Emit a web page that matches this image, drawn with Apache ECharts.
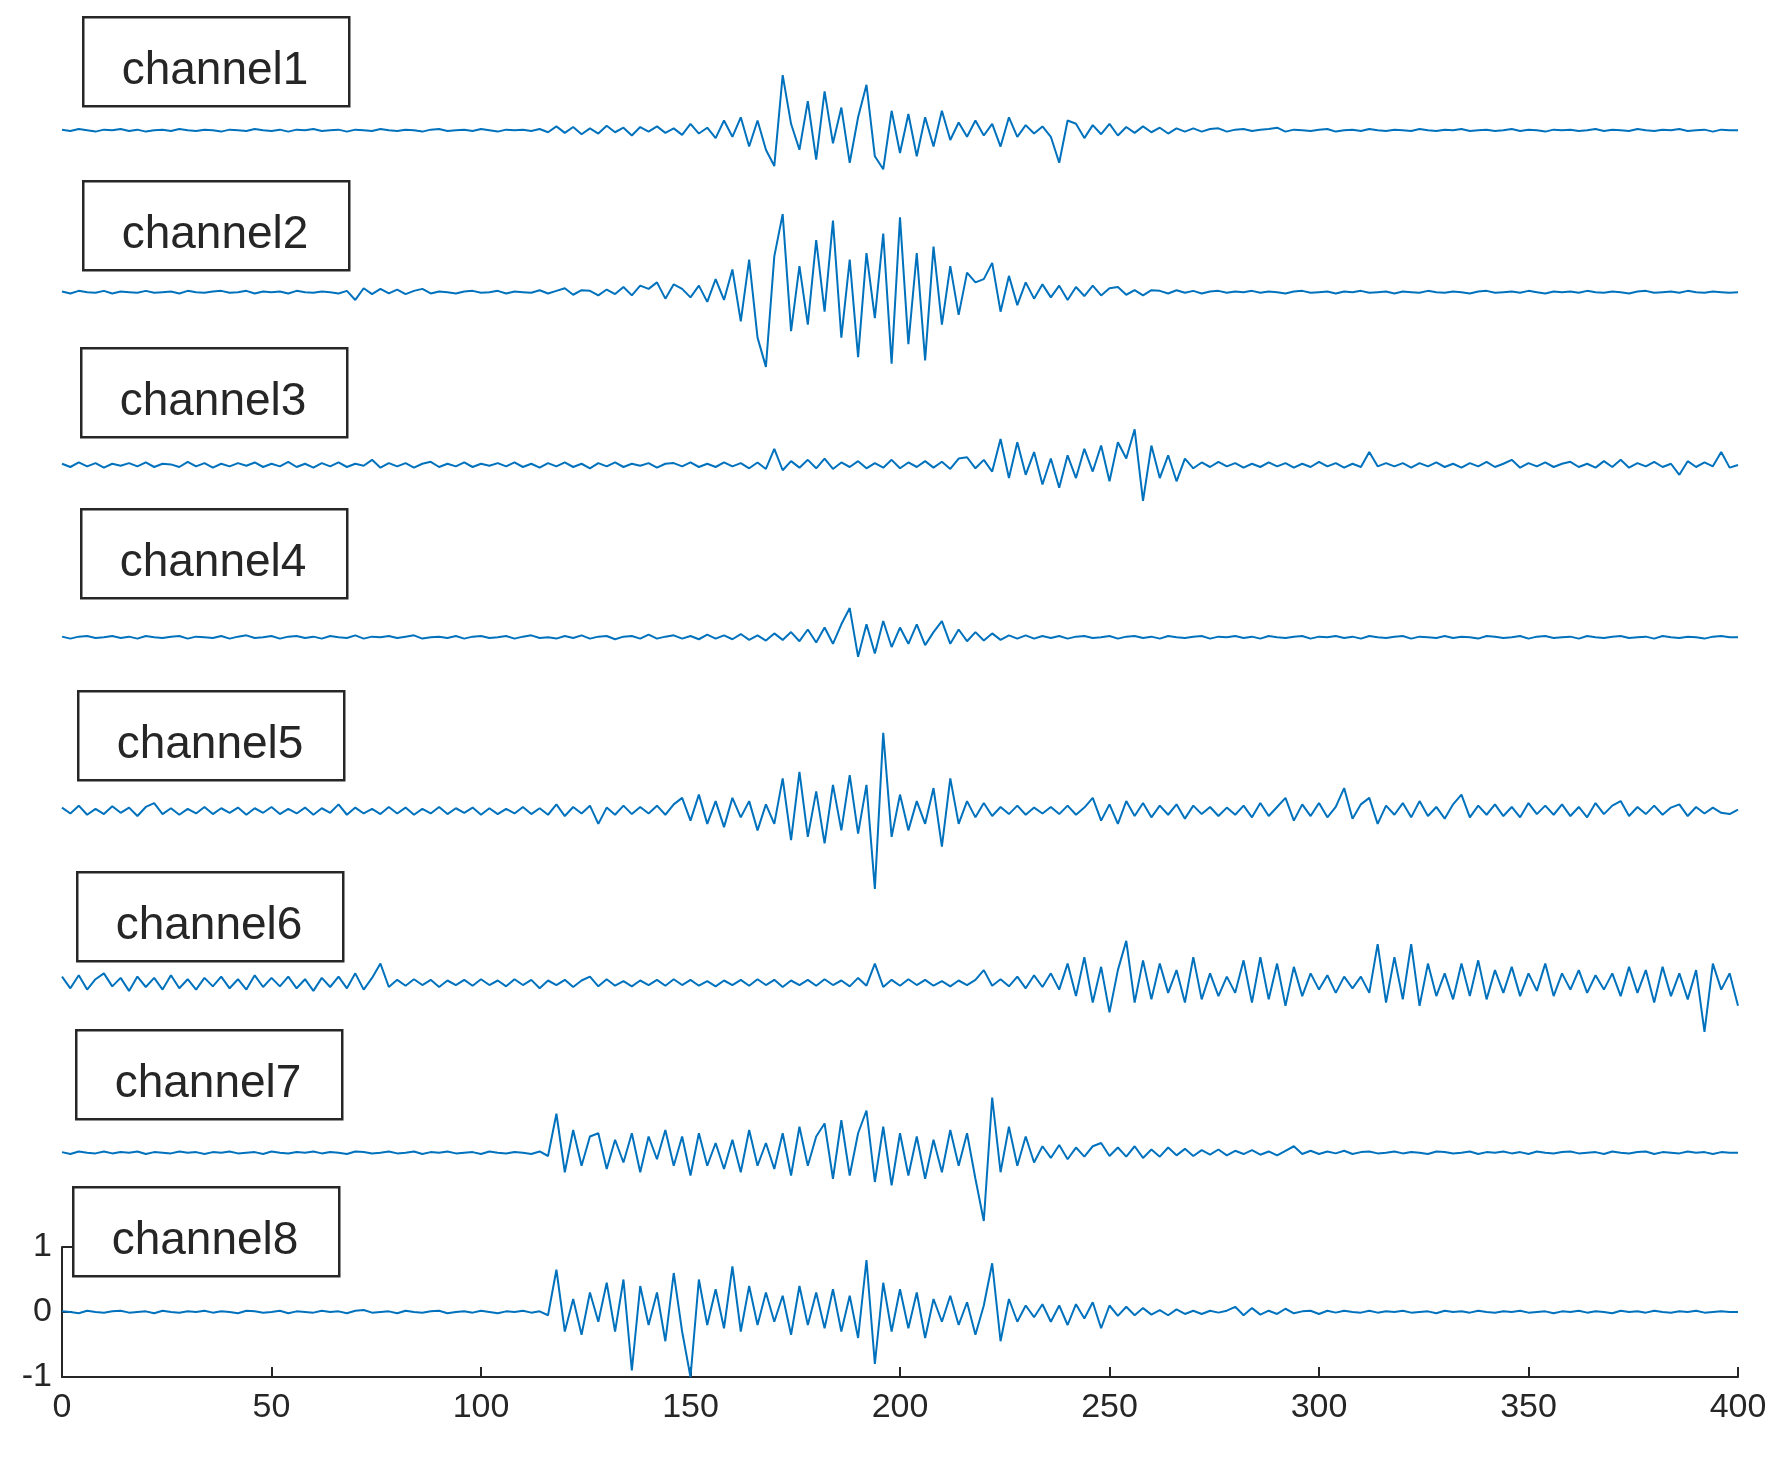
<!DOCTYPE html>
<html><head><meta charset="utf-8">
<script src="https://cdn.jsdelivr.net/npm/echarts@6/dist/echarts.min.js"></script>
<style>html,body{margin:0;padding:0;background:#fff}#c{width:1784px;height:1458px}</style>
</head><body><div id="c"></div>
<script>
const channelNames=['channel1','channel2','channel3','channel4','channel5','channel6','channel7','channel8'];
const xTickLabels=['0','50','100','150','200','250','300','350','400'];
const yTickLabels=['-1','0','1'];
const ch1=[0.01,-0.01,0.02,0,-0.02,0.01,0,0.02,-0.01,0.01,-0.02,0,0.01,-0.01,0.02,0,-0.01,0.01,0,-0.02,
0.01,0,-0.01,0.02,0,-0.01,0.01,-0.02,0.01,0,0.02,-0.01,0,0.01,-0.02,0.01,0,-0.01,0.02,0,
-0.01,0.01,0,-0.02,0.01,0.02,-0.01,0,0.01,-0.01,0.02,0,-0.02,0.01,0,0.01,-0.01,0.02,-0.03,0.06,
-0.04,0.05,-0.06,0.03,-0.05,0.07,-0.03,0.04,-0.08,0.05,-0.02,0.06,-0.04,0.03,-0.07,0.1,-0.05,0.04,-0.12,0.15,
-0.1,0.2,-0.25,0.15,-0.3,-0.55,0.85,0.1,-0.3,0.45,-0.45,0.6,-0.2,0.35,-0.5,0.2,0.7,-0.4,-0.6,0.3,
-0.35,0.25,-0.4,0.2,-0.25,0.3,-0.15,0.12,-0.1,0.15,-0.08,0.1,-0.25,0.2,-0.1,0.08,-0.05,0.06,-0.1,-0.5,
0.15,0.1,-0.12,0.08,-0.06,0.1,-0.08,0.05,-0.04,0.06,-0.03,0.04,-0.05,0.03,-0.02,0.03,-0.02,0.02,0.03,-0.02,
0.01,0.02,-0.01,0.01,0.02,0.04,-0.02,0.01,0,-0.01,0.01,0.02,-0.02,0,0.01,-0.01,0.02,0,-0.01,0.01,
0,-0.01,0.02,0,-0.01,0.01,0,0.02,-0.01,0,0.01,-0.01,0,0.02,-0.01,0.01,0,-0.02,0.01,0,
0.01,-0.01,0,0.02,-0.01,0.01,0,-0.01,0.02,0,-0.01,0.01,0,0.02,-0.01,0,0.01,-0.02,0.01,0,0];
const ch2=[0.01,-0.02,0.02,0,-0.01,0.02,-0.02,0.01,0,-0.01,0.02,-0.01,0,0.01,-0.02,0.02,0,-0.01,0.01,0.02,
-0.01,0,0.02,-0.02,0.01,0,0.01,-0.02,0.02,0,-0.01,0.01,0,-0.02,0.02,-0.12,0.06,-0.03,0.05,-0.02,
0.04,-0.03,0.02,0.05,-0.02,0.01,0,-0.02,0.01,0.02,-0.01,0,0.02,-0.02,0.01,0,-0.01,0.03,-0.02,0.02,
0.06,-0.04,0.03,0.02,-0.05,0.04,-0.03,0.08,-0.05,0.1,0.05,0.15,-0.1,0.12,0.05,-0.08,0.1,-0.15,0.2,-0.12,
0.35,-0.45,0.5,-0.7,-1.15,0.55,1.2,-0.6,0.4,-0.5,0.8,-0.3,1.1,-0.7,0.5,-1.0,0.6,-0.4,0.9,-1.1,
1.15,-0.8,0.6,-1.05,0.7,-0.5,0.4,-0.35,0.3,0.15,0.2,0.45,-0.3,0.25,-0.2,0.15,-0.1,0.12,-0.08,0.1,
-0.12,0.08,-0.06,0.1,-0.05,0.06,0.08,-0.04,0.03,-0.05,0.03,0.02,-0.02,0.03,-0.01,0.02,-0.02,0.01,0.02,-0.01,
0.01,0,0.02,-0.01,0.01,0,-0.02,0.01,0.02,-0.01,0,0.01,-0.02,0.01,0,0.02,-0.01,0,0.01,-0.02,
0.01,0,-0.01,0.02,0,-0.01,0.01,0,-0.02,0.01,0.02,-0.01,0,0.01,-0.01,0.02,0,-0.02,0.01,0,
0.01,-0.01,0.02,0,-0.01,0.01,0,-0.02,0.01,0.02,-0.01,0,0.01,-0.01,0.02,0,-0.01,0.01,0,-0.01,0];
const ch3=[0.02,-0.03,0.04,-0.02,0.03,-0.04,0.02,-0.01,0.03,-0.02,0.04,-0.03,0.02,0.01,-0.03,0.05,-0.02,0.03,-0.04,0.02,
-0.02,0.03,-0.01,0.04,-0.03,0.02,-0.02,0.05,-0.03,0.02,-0.04,0.03,-0.02,0.04,-0.03,0.02,-0.01,0.08,-0.04,0.03,
-0.02,0.03,-0.04,0.02,0.05,-0.03,0.02,-0.02,0.04,-0.03,0.02,-0.01,0.03,-0.02,0.04,-0.03,0.02,-0.04,0.03,-0.02,
0.04,-0.03,0.02,-0.05,0.03,-0.02,0.04,-0.03,0.02,-0.01,0.03,-0.04,0.02,0.03,-0.02,0.04,-0.03,0.02,-0.03,0.04,
-0.02,0.03,-0.05,0.04,-0.06,0.25,-0.08,0.06,-0.04,0.08,-0.05,0.1,-0.06,0.04,-0.03,0.06,-0.05,0.03,-0.04,0.08,
-0.05,0.04,-0.03,0.06,-0.04,0.05,-0.06,0.1,0.12,-0.05,0.08,-0.1,0.4,-0.2,0.35,-0.15,0.2,-0.3,0.1,-0.35,
0.15,-0.2,0.25,-0.1,0.3,-0.25,0.35,0.1,0.55,-0.55,0.3,-0.2,0.15,-0.25,0.1,-0.05,0.04,-0.03,0.05,-0.02,
0.03,-0.04,0.02,-0.03,0.04,-0.02,0.03,-0.04,0.02,-0.03,0.05,-0.02,0.03,-0.04,0.02,-0.03,0.2,-0.02,0.03,-0.02,
0.03,-0.04,0.03,-0.02,0.04,-0.03,0.02,-0.04,0.03,-0.02,0.05,-0.03,0.02,0.08,-0.04,0.03,-0.02,0.04,-0.03,0.02,
0.05,-0.03,0.02,-0.04,0.06,-0.03,0.08,-0.04,0.03,-0.02,0.05,-0.03,0.02,-0.15,0.06,-0.03,0.04,-0.02,0.2,-0.04,0];
const ch4=[0.01,-0.02,0.01,0.02,-0.01,0,0.02,-0.01,0.01,-0.02,0.02,0,-0.01,0.01,0.02,-0.02,0.01,0,-0.01,0.02,
-0.02,0.01,0.03,-0.01,0,0.02,-0.02,0.01,0.02,-0.01,0.01,-0.02,0.02,0,-0.01,0.03,-0.02,0.01,0,0.02,
-0.01,0.01,0.03,-0.02,0,0.01,-0.01,0.02,-0.02,0.01,0.02,-0.01,0,0.02,-0.02,0.01,0.03,-0.01,0,-0.02,
0.02,-0.01,0.03,-0.02,0.01,0.02,-0.03,0.01,0.02,-0.02,0.04,-0.02,0.01,0.03,-0.02,0.02,-0.03,0.04,-0.02,0.03,
-0.03,0.05,-0.04,0.03,-0.05,0.06,-0.04,0.08,-0.06,0.12,-0.08,0.15,-0.1,0.2,0.45,-0.3,0.2,-0.25,0.25,-0.15,
0.15,-0.1,0.2,-0.12,0.08,0.25,-0.1,0.12,-0.06,0.08,-0.05,0.06,-0.04,0.03,-0.02,0.03,-0.02,0.02,-0.01,0.02,
-0.02,0.01,0.02,-0.01,0,0.02,-0.02,0.01,0.02,-0.01,0.01,-0.02,0.02,0,-0.01,0.01,0.02,-0.02,0.01,0,
0.02,-0.01,0.01,-0.02,0.02,0,-0.01,0.01,0.02,-0.02,0.01,0,0.02,-0.01,0.01,-0.02,0.02,0,-0.01,0.01,
0.02,-0.02,0.01,0,-0.01,0.02,-0.01,0.01,0,-0.02,0.02,0.01,-0.01,0,0.02,-0.02,0.01,0.02,-0.01,0,
0.01,-0.02,0.02,0,-0.01,0.01,0.02,-0.01,0,0.01,-0.02,0.02,0,-0.01,0.01,0,-0.02,0.01,0.02,0,0];
const ch5=[0.05,-0.04,0.08,-0.06,0.03,-0.05,0.07,-0.03,0.05,-0.08,0.06,0.12,-0.05,0.04,-0.06,0.03,-0.04,0.06,-0.05,0.04,
-0.03,0.05,-0.06,0.04,-0.03,0.06,-0.05,0.03,-0.04,0.05,-0.06,0.04,-0.03,0.1,-0.06,0.05,-0.04,0.03,-0.05,0.06,
-0.04,0.05,-0.06,0.03,-0.04,0.06,-0.05,0.04,-0.03,0.05,-0.06,0.04,-0.05,0.03,-0.04,0.06,-0.05,0.04,-0.06,0.1,
-0.08,0.06,-0.04,0.08,-0.2,0.05,-0.06,0.08,-0.05,0.06,-0.04,0.08,-0.06,0.1,0.2,-0.15,0.25,-0.2,0.15,-0.25,
0.2,-0.1,0.15,-0.3,0.1,-0.2,0.5,-0.45,0.6,-0.4,0.3,-0.5,0.4,-0.3,0.55,-0.35,0.4,-1.2,1.2,-0.4,
0.25,-0.3,0.15,-0.2,0.35,-0.55,0.5,-0.2,0.15,-0.1,0.12,-0.08,0.06,-0.05,0.08,-0.06,0.05,-0.04,0.06,-0.05,
0.08,-0.06,0.05,0.2,-0.15,0.1,-0.2,0.15,-0.08,0.12,-0.1,0.08,-0.06,0.1,-0.12,0.08,-0.05,0.06,-0.08,0.05,
-0.06,0.08,-0.1,0.12,-0.08,0.06,0.2,-0.15,0.1,-0.08,0.12,-0.1,0.06,0.35,-0.12,0.1,0.2,-0.2,0.08,-0.06,
0.12,-0.1,0.15,-0.08,0.06,-0.12,0.1,0.25,-0.1,0.08,-0.06,0.1,-0.08,0.06,-0.1,0.12,-0.05,0.08,-0.06,0.1,
-0.08,0.06,-0.1,0.12,-0.05,0.08,0.15,-0.08,0.06,-0.05,0.08,-0.06,0.05,0.1,-0.08,0.06,-0.04,0.05,-0.03,-0.05,0.02];
const ch6=[0.1,-0.08,0.12,-0.1,0.06,0.15,-0.05,0.08,-0.12,0.1,-0.06,0.08,-0.1,0.12,-0.08,0.06,-0.1,0.08,-0.05,0.1,
-0.08,0.06,-0.1,0.12,-0.06,0.08,-0.05,0.1,-0.08,0.06,-0.12,0.08,-0.06,0.1,-0.08,0.15,-0.1,0.08,0.3,-0.06,
0.05,-0.04,0.06,-0.03,0.05,-0.06,0.04,-0.03,0.05,-0.04,0.06,-0.03,0.04,-0.05,0.06,-0.03,0.05,-0.08,0.04,-0.03,
0.05,-0.06,0.04,0.1,-0.05,0.06,-0.04,0.03,-0.05,0.04,-0.03,0.05,-0.04,0.06,-0.03,0.05,-0.04,0.03,-0.05,0.04,
-0.03,0.05,-0.04,0.06,-0.03,0.05,-0.06,0.04,-0.03,0.05,-0.04,0.06,-0.03,0.04,-0.05,0.08,-0.04,0.3,-0.06,0.05,
-0.04,0.06,-0.03,0.05,-0.04,0.03,-0.05,0.04,-0.03,0.05,0.2,-0.04,0.06,-0.05,0.1,-0.08,0.12,-0.06,0.15,-0.1,
0.3,-0.2,0.4,-0.3,0.25,-0.45,0.2,0.65,-0.3,0.35,-0.25,0.3,-0.15,0.2,-0.3,0.4,-0.25,0.15,-0.2,0.1,
-0.15,0.35,-0.3,0.4,-0.25,0.3,-0.35,0.25,-0.2,0.15,-0.1,0.12,-0.15,0.1,-0.08,0.1,-0.15,0.6,-0.3,0.4,
-0.25,0.6,-0.35,0.3,-0.2,0.15,-0.25,0.3,-0.2,0.35,-0.25,0.2,-0.15,0.25,-0.2,0.15,-0.12,0.3,-0.2,0.15,
-0.1,0.2,-0.15,0.12,-0.1,0.15,-0.2,0.25,-0.15,0.2,-0.3,0.25,-0.2,0.15,-0.25,0.2,-0.75,0.3,-0.1,0.15,-0.35];
const ch7=[0.01,-0.02,0.02,0,-0.01,0.02,-0.01,0.01,0,0.02,-0.02,0.01,0,-0.01,0.02,0,0.01,-0.02,0.01,0,
0.02,-0.01,0,0.01,-0.02,0.02,0,-0.01,0.01,0,0.02,-0.01,0.01,0,-0.02,0.02,0.01,-0.01,0,0.02,
-0.01,0,0.02,-0.02,0.01,0,0.02,-0.01,0,0.01,-0.02,0.02,0,-0.01,0.01,0,-0.02,0.02,-0.05,0.6,
-0.3,0.35,-0.2,0.25,0.3,-0.25,0.2,-0.15,0.3,-0.3,0.25,-0.1,0.35,-0.2,0.25,-0.35,0.3,-0.2,0.15,-0.25,
0.2,-0.3,0.35,-0.2,0.15,-0.25,0.3,-0.35,0.4,-0.2,0.25,0.45,-0.4,0.5,-0.35,0.3,0.65,-0.45,0.4,-0.5,
0.3,-0.35,0.25,-0.4,0.2,-0.3,0.35,-0.2,0.3,-0.4,-1.05,0.85,-0.3,0.4,-0.2,0.25,-0.15,0.1,-0.08,0.12,
-0.1,0.08,-0.06,0.1,0.15,-0.05,0.08,-0.06,0.1,-0.08,0.05,-0.06,0.08,-0.04,0.06,-0.05,0.04,-0.03,0.05,-0.04,
0.03,-0.02,0.04,-0.03,0.02,-0.04,0.03,0.1,-0.02,0.03,-0.02,0.02,-0.01,0.03,-0.02,0.01,0.02,-0.01,0,0.02,
-0.01,0.01,0,-0.02,0.02,0.01,-0.01,0,0.02,-0.02,0.01,0,0.02,-0.01,0.01,-0.02,0.02,0,-0.01,0.01,
0.02,-0.01,0,0.01,-0.02,0.02,0,-0.01,0.01,0.02,-0.02,0.01,0,-0.01,0.02,0,0.01,-0.02,0.01,0,0];
const ch8=[0.01,0,-0.02,0.02,0,-0.01,0.01,0.02,-0.01,0,0.01,-0.02,0.02,0,-0.01,0.01,0,0.02,-0.01,0.01,
0,-0.02,0.02,0.01,-0.01,0,0.02,-0.02,0.01,0,-0.01,0.02,0,0.01,-0.02,0.02,0.03,-0.01,0,0.01,
-0.02,0.02,0,-0.01,0.01,0.02,-0.02,0,0.01,-0.01,0.02,0,-0.02,0.01,0,0.02,-0.01,0.01,-0.05,0.65,
-0.3,0.2,-0.35,0.3,-0.15,0.45,-0.3,0.5,-0.9,0.4,-0.2,0.3,-0.45,0.6,-0.3,-1.0,0.5,-0.2,0.35,-0.25,
0.7,-0.3,0.4,-0.2,0.3,-0.15,0.25,-0.35,0.4,-0.2,0.3,-0.25,0.35,-0.3,0.25,-0.4,0.8,-0.8,0.45,-0.3,
0.35,-0.25,0.3,-0.4,0.2,-0.15,0.25,-0.2,0.15,-0.35,0.1,0.75,-0.45,0.2,-0.15,0.1,-0.08,0.12,-0.15,0.1,
-0.2,0.12,-0.1,0.15,-0.25,0.1,-0.06,0.08,-0.05,0.06,-0.04,0.03,-0.05,0.04,-0.03,0.02,-0.03,0.02,-0.01,0.02,
0.08,-0.05,0.06,-0.04,0.02,-0.03,0.05,-0.02,0.01,0.02,-0.03,0.02,-0.01,0.02,0,-0.01,0.02,-0.01,0.01,0,
0.02,-0.01,0,0.01,-0.02,0.02,0,0.01,-0.01,0.02,0,-0.01,0.01,0,0.02,-0.01,0,0.01,-0.02,0.01,
0,0.02,-0.01,0.01,0,-0.02,0.02,0,0.01,-0.01,0.02,0,-0.01,0.01,0,0.02,-0.01,0,0.01,0,0];
const channels=[ch1,ch2,ch3,ch4,ch5,ch6,ch7];
const sampleStep=2;

const offsets=[18.18,15.69,13.03,10.38,7.71,5.06,2.45];
const boxes=[[82,16],[82,180],[80,347],[80,508],[77,690],[76,871],[75,1029],[72,1186]];
const color='#0072BD';
const series=channels.map((d,k)=>({type:'line',xAxisIndex:0,yAxisIndex:0,showSymbol:false,symbol:'none',
  lineStyle:{color:color,width:2},data:d.map((v,i)=>[i*sampleStep,v+offsets[k]]),animation:false}));
series.push({type:'line',xAxisIndex:1,yAxisIndex:1,showSymbol:false,symbol:'none',
  lineStyle:{color:color,width:2},data:ch8.map((v,i)=>[i*sampleStep,v]),animation:false});
const graphic=[];
channelNames.forEach((n,k)=>{
  graphic.push({type:'rect',left:boxes[k][0],top:boxes[k][1],z:100,shape:{width:266,height:89},
    style:{fill:'#fff',stroke:'#262626',lineWidth:2.5}});
  graphic.push({type:'text',x:boxes[k][0]+133,y:boxes[k][1]+55,z:101,
    style:{text:n,font:'46px Arial, "Liberation Sans", sans-serif',fill:'#262626',align:'center',verticalAlign:'middle'}});
});
const chart=echarts.init(document.getElementById('c'));
chart.setOption({animation:false,
  grid:[{left:62,right:46,top:12,bottom:81},{left:62,right:46,bottom:81,height:130}],
  xAxis:[{type:'value',gridIndex:0,min:0,max:400,show:false},
    {type:'value',gridIndex:1,min:0,max:400,interval:50,
     axisLine:{onZero:false,lineStyle:{color:'#262626',width:2}},axisTick:{inside:true,length:10,lineStyle:{color:'#262626',width:2}},
     splitLine:{show:false},
     axisLabel:{color:'#262626',fontSize:34,fontFamily:'Arial, "Liberation Sans"',margin:14,
       formatter:v=>xTickLabels[Math.round(v/50)]}}],
  yAxis:[{type:'value',gridIndex:0,min:-1,max:20,show:false},
    {type:'value',gridIndex:1,min:-1,max:1,interval:1,
     axisLine:{show:true,onZero:false,lineStyle:{color:'#262626',width:2}},axisTick:{show:true,inside:true,length:10,lineStyle:{color:'#262626',width:2}},
     splitLine:{show:false},
     axisLabel:{color:'#262626',fontSize:34,fontFamily:'Arial, "Liberation Sans"',margin:10,
       formatter:v=>yTickLabels[Math.round(v)+1]}}],
  series:series,graphic:graphic});
</script></body></html>
